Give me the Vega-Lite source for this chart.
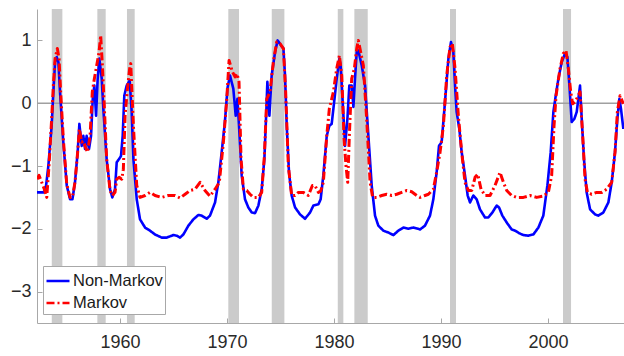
{
  "$schema": "https://vega.github.io/schema/vega-lite/v6.json",
  "width": 587,
  "height": 314,
  "autosize": {"type": "none"},
  "padding": {"left": 37, "top": 9, "right": 0, "bottom": 33},
  "background": "white",
  "config": {
    "view": {"stroke": null},
    "axis": {"domainColor": "#a8a8a8", "tickColor": "#a8a8a8", "labelColor": "#2a2a2a", "labelFont": "Liberation Sans", "labelFontSize": 18, "grid": false, "title": null, "domainWidth": 1, "tickWidth": 1}
  },
  "datasets": {
    "rec": [
      {"start": 1953.62, "end": 1954.61},
      {"start": 1957.88, "end": 1958.66},
      {"start": 1960.65, "end": 1961.37},
      {"start": 1970.12, "end": 1971.12},
      {"start": 1974.18, "end": 1975.36},
      {"start": 1980.35, "end": 1980.87},
      {"start": 1981.9, "end": 1983.15},
      {"start": 1990.84, "end": 1991.4},
      {"start": 2001.4, "end": 2002.15}
    ],
    "nm": [
      [1952.24,-1.42],[1952.83,-1.42],[1953.05,-1.37],[1953.30,-1.00],[1953.61,-0.36],[1953.77,0.18],[1953.93,0.655],[1954.08,0.735],[1954.24,0.655],[1954.39,0.18],[1954.70,-0.62],[1955.02,-1.31],[1955.33,-1.53],[1955.55,-1.53],[1955.79,-1.26],[1956.04,-0.78],[1956.2,-0.33],[1956.42,-0.68],[1956.57,-0.52],[1956.73,-0.73],[1956.88,-0.52],[1957.1,-0.73],[1957.29,-0.52],[1957.45,0.07],[1957.6,0.28],[1957.76,-0.20],[1957.91,0.39],[1958.07,0.71],[1958.29,0.39],[1958.44,-0.09],[1958.75,-0.89],[1959.07,-1.37],[1959.28,-1.50],[1959.53,-1.37],[1959.69,-0.94],[1959.91,-0.89],[1960.09,-0.84],[1960.25,-0.52],[1960.4,0.12],[1960.62,0.28],[1960.9,0.36],[1961.09,-0.14],[1961.25,-0.89],[1961.56,-1.53],[1961.87,-1.85],[1962.34,-1.98],[1962.8,-2.03],[1963.27,-2.09],[1963.89,-2.14],[1964.36,-2.14],[1964.98,-2.10],[1965.3,-2.11],[1965.61,-2.14],[1965.92,-2.09],[1966.39,-1.95],[1966.85,-1.85],[1967.32,-1.78],[1967.63,-1.79],[1968.1,-1.84],[1968.41,-1.79],[1968.88,-1.58],[1969.19,-1.26],[1969.5,-0.78],[1969.8,-0.3],[1970.05,0.25],[1970.28,0.44],[1970.59,0.23],[1970.81,-0.20],[1970.97,0.07],[1971.12,-0.36],[1971.37,-1.15],[1971.68,-1.53],[1971.99,-1.66],[1972.31,-1.74],[1972.62,-1.75],[1972.93,-1.63],[1973.24,-1.37],[1973.49,-0.89],[1973.68,-0.09],[1973.77,0.34],[1973.96,-0.20],[1974.17,0.44],[1974.49,0.815],[1974.73,1.00],[1975.05,0.92],[1975.27,0.87],[1975.42,0.44],[1975.58,-0.36],[1975.79,-1.10],[1976.04,-1.47],[1976.36,-1.66],[1976.82,-1.77],[1977.29,-1.84],[1977.76,-1.74],[1978.07,-1.63],[1978.54,-1.61],[1978.75,-1.53],[1979.0,-1.15],[1979.32,-0.52],[1979.56,-0.36],[1979.78,-0.33],[1979.94,-0.09],[1980.25,0.39],[1980.5,0.71],[1980.62,0.60],[1980.81,0.02],[1981.03,-0.68],[1981.25,-0.25],[1981.43,0.28],[1981.65,0.28],[1981.81,-0.06],[1981.96,0.39],[1982.12,0.815],[1982.27,0.84],[1982.59,0.60],[1982.9,0.28],[1983.21,-0.52],[1983.52,-1.31],[1983.83,-1.79],[1984.14,-1.95],[1984.61,-2.03],[1985.08,-2.06],[1985.55,-2.10],[1986.01,-2.03],[1986.48,-1.98],[1986.95,-2.00],[1987.42,-1.98],[1988.04,-2.01],[1988.5,-1.95],[1988.97,-1.79],[1989.28,-1.53],[1989.59,-1.10],[1989.81,-0.68],[1990.06,-0.62],[1990.37,0.02],[1990.69,0.71],[1990.93,0.975],[1991.15,0.815],[1991.31,0.28],[1991.46,-0.14],[1991.71,-0.41],[1991.93,-0.78],[1992.24,-1.15],[1992.49,-1.47],[1992.71,-1.58],[1993.02,-1.47],[1993.33,-1.53],[1993.64,-1.69],[1994.11,-1.82],[1994.42,-1.82],[1994.8,-1.74],[1995.2,-1.63],[1995.42,-1.66],[1995.73,-1.79],[1996.14,-1.90],[1996.6,-2.01],[1996.92,-2.03],[1997.3,-2.07],[1997.7,-2.10],[1998.16,-2.11],[1998.63,-2.09],[1999.1,-1.98],[1999.56,-1.79],[1999.94,-1.31],[2000.25,-0.78],[2000.5,-0.14],[2000.72,0.12],[2000.97,0.39],[2001.28,0.655],[2001.59,0.79],[2001.81,0.735],[2002.0,0.28],[2002.21,-0.30],[2002.46,-0.25],[2002.68,-0.14],[2002.99,0.28],[2003.15,-0.25],[2003.36,-0.89],[2003.61,-1.42],[2003.93,-1.69],[2004.39,-1.77],[2004.7,-1.79],[2005.17,-1.74],[2005.64,-1.58],[2005.95,-1.26],[2006.26,-0.78],[2006.48,-0.25],[2006.67,0.07],[2006.82,-0.09],[2007.04,-0.41]
    ],
    "mk": [
      [1952.24,-1.21],[1952.43,-1.15],[1952.68,-1.26],[1952.93,-1.37],[1953.15,-1.50],[1953.36,-1.00],[1953.61,-0.25],[1953.77,0.28],[1953.93,0.71],[1954.14,0.87],[1954.3,0.71],[1954.45,0.18],[1954.70,-0.57],[1955.02,-1.29],[1955.33,-1.50],[1955.55,-1.50],[1955.79,-1.26],[1956.04,-0.78],[1956.2,-0.41],[1956.42,-0.62],[1956.57,-0.6],[1956.73,-0.68],[1956.95,-0.78],[1957.2,-0.52],[1957.41,0.18],[1957.6,0.39],[1957.82,0.60],[1958.04,0.815],[1958.19,1.08],[1958.35,0.60],[1958.54,-0.09],[1958.75,-0.89],[1959.07,-1.39],[1959.28,-1.47],[1959.53,-1.42],[1959.69,-1.21],[1959.91,-1.18],[1960.16,-1.21],[1960.31,-1.05],[1960.47,-0.20],[1960.69,0.23],[1960.9,0.55],[1961.0,0.63],[1961.25,-0.36],[1961.56,-1.31],[1961.87,-1.50],[1962.34,-1.47],[1962.8,-1.42],[1963.27,-1.47],[1963.89,-1.50],[1964.52,-1.47],[1965.14,-1.47],[1965.61,-1.51],[1966.08,-1.45],[1966.54,-1.39],[1967.01,-1.37],[1967.48,-1.26],[1967.94,-1.39],[1968.41,-1.48],[1968.88,-1.37],[1969.28,-1.26],[1969.66,-0.62],[1969.97,0.05],[1970.19,0.68],[1970.5,0.50],[1970.75,0.42],[1970.93,0.47],[1971.12,0.34],[1971.31,-0.89],[1971.53,-1.37],[1971.84,-1.39],[1972.15,-1.45],[1972.46,-1.50],[1972.93,-1.50],[1973.24,-1.42],[1973.49,-0.84],[1973.71,0.07],[1974.02,0.18],[1974.33,0.655],[1974.64,0.975],[1974.95,0.95],[1975.27,0.87],[1975.48,0.18],[1975.73,-1.00],[1976.04,-1.47],[1976.36,-1.47],[1976.67,-1.42],[1977.13,-1.42],[1977.6,-1.47],[1977.98,-1.31],[1978.22,-1.31],[1978.54,-1.42],[1978.75,-1.40],[1979.0,-1.26],[1979.32,-0.52],[1979.56,-0.09],[1979.94,0.18],[1980.25,0.55],[1980.5,0.76],[1980.72,0.44],[1980.94,-0.57],[1981.12,-1.00],[1981.28,-1.26],[1981.43,-0.52],[1981.65,0.39],[1981.9,0.55],[1982.12,0.87],[1982.27,1.00],[1982.49,0.815],[1982.74,0.60],[1983.05,-0.25],[1983.37,-1.26],[1983.61,-1.50],[1983.99,-1.50],[1984.46,-1.47],[1984.92,-1.45],[1985.39,-1.47],[1985.86,-1.45],[1986.32,-1.42],[1986.79,-1.39],[1987.26,-1.41],[1987.73,-1.47],[1988.04,-1.50],[1988.5,-1.47],[1988.82,-1.45],[1989.28,-1.37],[1989.59,-1.10],[1989.91,-0.78],[1990.22,-0.36],[1990.53,0.44],[1990.84,0.895],[1991.06,0.95],[1991.31,0.55],[1991.62,-0.20],[1991.93,-0.78],[1992.24,-1.26],[1992.55,-1.39],[1992.87,-1.39],[1993.18,-1.18],[1993.43,-1.13],[1993.74,-1.37],[1994.11,-1.47],[1994.58,-1.47],[1995.05,-1.31],[1995.51,-1.10],[1995.83,-1.26],[1996.14,-1.39],[1996.6,-1.47],[1997.07,-1.50],[1997.7,-1.50],[1998.32,-1.47],[1998.94,-1.50],[1999.56,-1.48],[2000.03,-1.42],[2000.34,-1.15],[2000.56,-0.36],[2000.75,0.12],[2001.12,0.55],[2001.43,0.79],[2001.68,0.84],[2001.9,0.55],[2002.12,0.18],[2002.3,-0.01],[2002.52,0.02],[2002.77,0.10],[2002.99,0.18],[2003.24,-0.52],[2003.46,-1.21],[2003.68,-1.42],[2004.08,-1.45],[2004.55,-1.42],[2005.02,-1.42],[2005.48,-1.37],[2005.95,-1.26],[2006.26,-0.78],[2006.48,-0.14],[2006.73,0.12],[2007.04,-0.01]
    ]
  },
  "layer": [
    {
      "data": {"name": "rec"},
      "mark": {"type": "rect", "color": "#cbcbcb"},
      "encoding": {
        "x": {"field": "start", "type": "quantitative", "scale": {"domain": [1952.24, 2007.1], "nice": false, "zero": false},
              "axis": {"values": [1960, 1970, 1980, 1990, 2000], "format": "d", "tickSize": -5, "labelPadding": 15}},
        "x2": {"field": "end"}
      }
    },
    {
      "data": {"values": [{"zero": 0}]},
      "mark": {"type": "rule", "color": "#a0a0a0", "strokeWidth": 1.5},
      "encoding": {
        "y": {"field": "zero", "type": "quantitative", "scale": {"domain": [-3.5, 1.5], "nice": false, "zero": false},
              "axis": {"values": [-3, -2, -1, 0, 1], "format": "d", "tickSize": -5, "labelPadding": 11}}
      }
    },
    {
      "data": {"name": "nm"},
      "transform": [{"calculate": "datum[0]", "as": "year"}, {"calculate": "datum[1]", "as": "value"}, {"calculate": "'Non-Markov'", "as": "series"}],
      "mark": {"type": "line", "strokeWidth": 2.6, "strokeJoin": "round", "clip": true},
      "encoding": {
        "x": {"field": "year", "type": "quantitative"},
        "y": {"field": "value", "type": "quantitative"},
        "color": {"field": "series", "type": "nominal", "scale": {"domain": ["Non-Markov", "Markov"], "range": ["#0000ff", "#ff0000"]},
                  "legend": {"title": null, "orient": "none", "legendX": 6, "legendY": 257, "fillColor": "white", "strokeColor": "#a8a8a8", "padding": 2, "symbolType": "stroke", "symbolSize": 529, "symbolStrokeWidth": 2.6, "labelFontSize": 16.5, "labelFont": "Liberation Sans", "labelColor": "#1a1a1a", "labelOffset": 2, "rowPadding": 0}},
        "strokeDash": {"field": "series", "type": "nominal", "scale": {"domain": ["Non-Markov", "Markov"], "range": [[1, 0], [8, 3, 2, 3]]},
                  "legend": {"title": null, "orient": "none", "legendX": 6, "legendY": 257, "fillColor": "white", "strokeColor": "#a8a8a8", "padding": 2, "symbolType": "stroke", "symbolSize": 529, "symbolStrokeWidth": 2.6, "labelFontSize": 16.5, "labelFont": "Liberation Sans", "labelColor": "#1a1a1a", "labelOffset": 2, "rowPadding": 0}}
      }
    },
    {
      "data": {"name": "mk"},
      "transform": [{"calculate": "datum[0]", "as": "year"}, {"calculate": "datum[1]", "as": "value"}, {"calculate": "'Markov'", "as": "series"}],
      "mark": {"type": "line", "strokeWidth": 3, "strokeJoin": "round", "clip": true},
      "encoding": {
        "x": {"field": "year", "type": "quantitative"},
        "y": {"field": "value", "type": "quantitative"},
        "color": {"field": "series", "type": "nominal"},
        "strokeDash": {"field": "series", "type": "nominal"}
      }
    }
  ]
}
